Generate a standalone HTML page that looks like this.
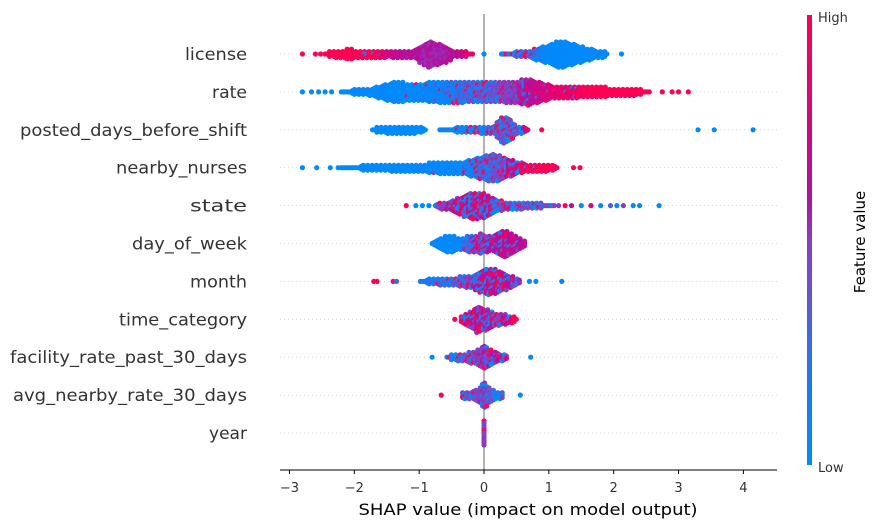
<!DOCTYPE html>
<html><head><meta charset="utf-8"><style>
html,body{margin:0;padding:0;background:#fff;}
svg{display:block;font-family:"DejaVu Sans","Liberation Sans",sans-serif;}
</style></head><body>
<svg id="chart" width="881" height="528" viewBox="0 0 881 528" xmlns="http://www.w3.org/2000/svg">
<defs>
<linearGradient id="cbar" x1="0" y1="1" x2="0" y2="0">
<stop offset="0" stop-color="#008bfb"/><stop offset="0.2" stop-color="#1e78f0"/><stop offset="0.35" stop-color="#5a5ad8"/><stop offset="0.5" stop-color="#8c3cc0"/><stop offset="0.6" stop-color="#b0109f"/><stop offset="0.8" stop-color="#dc0479"/><stop offset="1" stop-color="#ff0052"/>
</linearGradient>
</defs>
<g id="grid"></g>
<line x1="484" y1="14" x2="484" y2="470" stroke="#999" stroke-width="1.5"/>
<g id="dots"></g>
<g id="ylabels"></g>
<line x1="280" y1="470" x2="777" y2="470" stroke="#000" stroke-width="1"/>
<g id="xticks"></g>
<text x="528" y="515" font-size="16" text-anchor="middle" fill="#000" textLength="339" lengthAdjust="spacingAndGlyphs">SHAP value (impact on model output)</text>
<rect x="807" y="15" width="5" height="450" fill="url(#cbar)"/>
<text x="818" y="22" font-size="13" fill="#333">High</text>
<text x="818" y="472" font-size="13" fill="#333">Low</text>
<text x="0" y="0" font-size="15" fill="#000" text-anchor="middle" transform="translate(865,242) rotate(-90)">Feature value</text>
</svg>
<script>
const features = ["license","rate","posted_days_before_shift","nearby_nurses","state","day_of_week","month","time_category","facility_rate_past_30_days","avg_nearby_rate_30_days","year"];
const xTicks = [-3,-2,-1,0,1,2,3,4];
// profile knots: [shap value, half-height(px spread), colour 0..1, mixing 0..1]
const licenseProfiles = [
 [[-2.45,2,1,0],[-2.1,5,1,0.1],[-1.7,4,1,0.2],[-1.5,3,0.75,0],[-1.1,4,0.62,0],[-0.85,13,0.58,0],[-0.6,9,0.58,0],[-0.45,3,0.65,0],[-0.15,2,0.9,0]],
 [[0.3,2,0.6,0.6],[0.7,3,0.3,0.5],[0.9,8,0.05,0.1],[1.2,14,0,0],[1.5,8,0,0],[1.9,2,0,0]]];
const licenseOutliers = [[-2.8,1],[-2.6,1],[-2.52,1],[0.0,0],[0.27,0],[2.12,0]];
const rateProfiles = [[[-2.2,2,0,0],[-1.8,3,0,0],[-1.4,10,0,0],[-1.0,9,0.03,0.05],[-0.6,11,0.08,0.15],[-0.2,10,0.35,0.4],[0.3,10,0.45,0.4],[0.7,13,0.62,0.2],[1.1,6,0.85,0.1],[1.8,5,1,0],[2.3,4,1,0],[2.55,1,1,0]]];
const rateOutliers = [[-2.8,0],[-2.66,0],[-2.55,0],[-2.45,0],[-2.35,0],[2.75,1],[2.9,1],[3.0,1],[3.15,1]];
const postedProfiles = [
 [[-1.72,2,0,0],[-1.4,4,0,0],[-1.0,3,0,0],[-0.88,2,0,0]],
 [[-0.68,2,0.05,0.1],[-0.1,3,0.1,0.4],[0.15,4,0.35,0.6],[0.28,13,0.38,0.6],[0.4,12,0.4,0.6],[0.5,4,0.5,0.6],[0.7,2,0.8,0.5]]];
const postedOutliers = [[0.89,1],[3.3,0],[3.55,0],[4.15,0]];
const nearbyProfiles = [[[-2.2,2,0,0],[-1.5,3,0,0],[-0.8,5,0.02,0],[-0.3,7,0.05,0.1],[0.0,12,0.3,0.5],[0.15,15,0.35,0.5],[0.35,10,0.55,0.5],[0.55,5,0.9,0.2],[0.9,4,1,0],[1.15,2,1,0]]];
const nearbyOutliers = [[-2.8,0],[-2.58,0],[-2.37,0],[-2.25,0],[1.38,1],[1.48,1]];
const stateProfiles = [[[-0.75,2,0.4,0.8],[-0.45,6,0.7,0.6],[-0.2,14,0.75,0.6],[0.0,12,0.7,0.6],[0.25,5,0.5,0.7],[0.6,3,0.4,0.8],[1.1,2,0.4,0.8]]];
const stateOutliers = [[-1.2,1],[-1.05,0],[-0.95,0],[-0.85,0],[1.15,0.5],[1.25,1],[1.35,0.6],[1.5,0],[1.65,0.8],[1.8,0],[1.95,0.3],[2.05,0],[2.15,0.5],[2.3,0],[2.4,0],[2.7,0]];
const dayProfiles = [[[-0.8,2,0,0],[-0.55,9,0,0],[-0.35,6,0.05,0],[-0.15,9,0.6,0.7],[0.0,10,0.5,0.7],[0.1,7,0.6,0.5],[0.3,14,0.68,0.3],[0.5,8,0.65,0.2],[0.65,2,0.65,0]]];
const dayOutliers = [];
const monthProfiles = [[[-0.98,2,0.15,0],[-0.5,4,0.25,0.2],[-0.2,6,0.5,0.6],[0.05,14,0.68,0.5],[0.25,11,0.68,0.5],[0.45,5,0.6,0.6],[0.58,2,0.5,0.8]]];
const monthOutliers = [[-1.7,1],[-1.65,1],[-1.4,1],[-1.35,0.3],[0.7,0],[0.8,0],[1.2,0]];
const timeProfiles = [[[-0.35,3,0.6,0.8],[-0.2,8,0.65,0.5],[-0.1,14,0.62,0.4],[0.05,10,0.6,0.6],[0.2,6,0.5,0.8],[0.45,4,0.9,0.2],[0.5,2,1,0]]];
const timeOutliers = [[-0.45,1]];
const facilityProfiles = [[[-0.57,2,0.05,0.3],[-0.3,4,0.25,0.5],[-0.1,7,0.5,0.5],[0.0,13,0.55,0.3],[0.15,6,0.55,0.5],[0.35,3,0.8,0.3]]];
const facilityOutliers = [[-0.8,0],[0.72,0]];
const avgProfiles = [[[-0.33,3,0.4,0.5],[-0.1,6,0.5,0.5],[0.0,14,0.5,0.35],[0.1,7,0.4,0.5],[0.2,4,0.2,0.5],[0.3,3,0.5,0.7]]];
const avgOutliers = [[-0.66,1],[0.56,0]];
const yearProfiles = [[[0.0,14,0.45,0.3],[0.0,14,0.45,0.3]]];
const yearOutliers = [];

const allProfiles = [licenseProfiles,rateProfiles,postedProfiles,nearbyProfiles,stateProfiles,dayProfiles,monthProfiles,timeProfiles,facilityProfiles,avgProfiles,yearProfiles];
const allOutliers = [licenseOutliers,rateOutliers,postedOutliers,nearbyOutliers,stateOutliers,dayOutliers,monthOutliers,timeOutliers,facilityOutliers,avgOutliers,yearOutliers];

const NS="http://www.w3.org/2000/svg";
const x = v => 484 + v*64.85;
const y = i => 54 + i*37.9;
const stops=[[0,[0,139,251]],[0.2,[30,120,240]],[0.35,[90,90,216]],[0.5,[140,60,192]],[0.6,[176,16,159]],[0.8,[220,4,121]],[1,[255,0,82]]];
function col(c){c=Math.max(0,Math.min(1,c));for(let k=1;k<stops.length;k++){if(c<=stops[k][0]){const a=stops[k-1],b=stops[k],t=(c-a[0])/(b[0]-a[0]);const r=a[1].map((q,n)=>Math.round(q+(b[1][n]-q)*t));return `rgb(${r[0]},${r[1]},${r[2]})`;}}return 'rgb(255,0,82)';}
function hash(a,b){let h=(a*374761393+b*668265263)>>>0;h=((h^(h>>>13))*1274126177)>>>0;return ((h^(h>>>16))>>>0)%1000/1000;}
const labelWidths=[62,35,227,131,57,115,57,128,237,234,38];

const grid=document.getElementById('grid'), dots=document.getElementById('dots'), yl=document.getElementById('ylabels'), xt=document.getElementById('xticks');
features.forEach((f,i)=>{
  const g=document.createElementNS(NS,'line');
  
  
  g.setAttribute('x1',280);g.setAttribute('x2',777);g.setAttribute('y1',y(i));g.setAttribute('y2',y(i));
  g.setAttribute('stroke','#ccc');g.setAttribute('stroke-width','0.8');g.setAttribute('stroke-dasharray','1,3');
  grid.appendChild(g);
  const t=document.createElementNS(NS,'text');
  
  
  t.setAttribute('x',247);t.setAttribute('y',y(i)+6);t.setAttribute('text-anchor','end');t.setAttribute('font-size','17');t.setAttribute('fill','#333');
  t.setAttribute('textLength',labelWidths[i]);t.setAttribute('lengthAdjust','spacingAndGlyphs');
  t.textContent=f;yl.appendChild(t);
  const grp=document.createElementNS(NS,'g');
  
  
  dots.appendChild(grp);
  function dot(cx,cy,fill){const c=document.createElementNS(NS,'circle');c.setAttribute('cx',cx.toFixed(1));c.setAttribute('cy',cy.toFixed(1));c.setAttribute('r','2.6');c.setAttribute('fill',fill);grp.appendChild(c);}
  allProfiles[i].forEach((p,pi)=>{
    const x0=x(p[0][0]), x1=x(p[p.length-1][0]);
    let col_i=0;
    for(let px=x0; px<=x1+0.01; px+=2.2, col_i++){
      const v=(px-484)/64.85;
      let k=0; while(k<p.length-2 && v>p[k+1][0]) k++;
      const a=p[k], b=p[Math.min(k+1,p.length-1)];
      const t=b[0]===a[0]?0:Math.max(0,Math.min(1,(v-a[0])/(b[0]-a[0])));
      const h=a[1]+(b[1]-a[1])*t, c=a[2]+(b[2]-a[2])*t, m=a[3]+(b[3]-a[3])*t;
      const n=Math.floor(h/2.4);
      const off=(col_i%2)*1.2;
      for(let j=-n;j<=n;j++){
        let cy=y(i)+j*2.4+(n>0?off:0);
        if(Math.abs(cy-y(i))>h+0.5) continue;
        const hs=hash(col_i+i*1000+pi*500, j+50);
        let fill;
        if(hs<m){const r2=hash(j+7,col_i+i*31);fill=r2<0.4?col(0):(r2<0.7?col(1):col(0.45));}
        else fill=col(c+(hash(col_i,j+i)-0.5)*0.15);
        dot(px,cy,fill);
      }
    }
  });
  allOutliers[i].forEach(o=>dot(x(o[0]),y(i),col(o[1])));
});
xTicks.forEach(v=>{
  const l=document.createElementNS(NS,'line');
  
  
  l.setAttribute('x1',x(v));l.setAttribute('x2',x(v));l.setAttribute('y1',470);l.setAttribute('y2',474);l.setAttribute('stroke','#000');
  xt.appendChild(l);
  const t=document.createElementNS(NS,'text');
  
  
  t.setAttribute('x',x(v));t.setAttribute('y',492);t.setAttribute('text-anchor','middle');t.setAttribute('font-size','13');t.setAttribute('fill','#333');
  t.textContent=v<0?'\u2212'+(-v):String(v);xt.appendChild(t);
});
</script>
</body></html>
